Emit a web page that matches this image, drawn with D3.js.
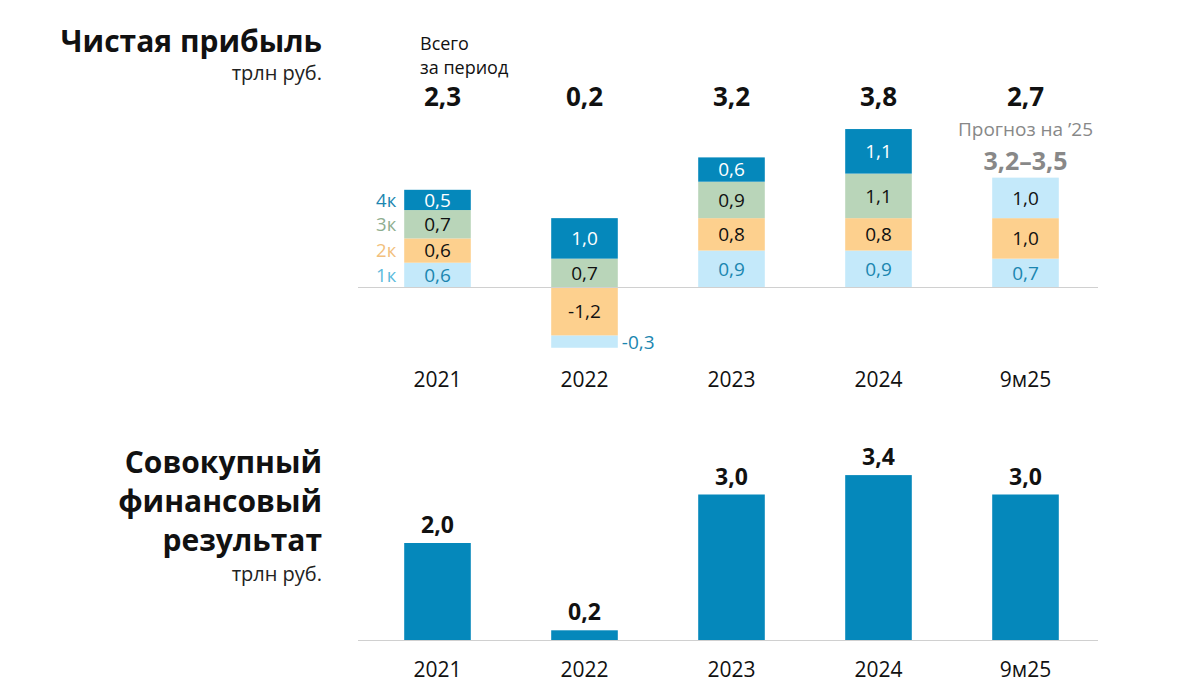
<!DOCTYPE html>
<html><head><meta charset="utf-8">
<script src="https://cdn.jsdelivr.net/npm/d3@7/dist/d3.min.js"></script>
<style>body{margin:0;background:#fff}svg{display:block}text{font-family:"Open Sans",sans-serif}</style>
</head><body>
<svg id="c" width="1201" height="700"></svg>
<script>
const categories = ["2021","2022","2023","2024","9м25"];
const quarters = ["1к","2к","3к","4к"];
const q1 = [0.6, -0.3, 0.9, 0.9, 0.7];
const q2 = [0.6, -1.2, 0.8, 0.8, 1.0];
const q3 = [0.7, 0.7, 0.9, 1.1, 1.0];
const q4 = [0.5, 1.0, 0.6, 1.1, null];
const totals = ["2,3","0,2","3,2","3,8","2,7"];
const forecastLabel = "Прогноз на ’25";
const forecastRange = "3,2–3,5";
const comprehensive = [2.0, 0.2, 3.0, 3.4, 3.0];

const qColors = ["#c4e9fa","#fdd08e","#b9d5b9","#0588bb"];
const qText = ["#1b86b0","#111","#111","#fff"];
const qLegend = ["#5cbbdd","#f2c07c","#8fae8f","#1b86b0"];
const barColor = "#0588bb";

const svg = d3.select("#c");
const fmt = v => d3.format(".1f")(v).replace(".", ",").replace("−","-");

// Titles
svg.append("text").attr("x",322).attr("y",52).attr("text-anchor","end")
  .attr("font-size",30).attr("font-weight",700).attr("fill","#111").text("Чистая прибыль");
svg.append("text").attr("x",322).attr("y",80).attr("text-anchor","end")
  .attr("font-size",20).attr("fill","#222").text("трлн руб.");
["Совокупный","финансовый","результат"].forEach((t,i)=>{
  svg.append("text").attr("x",322).attr("y",473+i*39).attr("text-anchor","end")
    .attr("font-size",30).attr("font-weight",700).attr("fill","#111").text(t);
});
svg.append("text").attr("x",322).attr("y",581).attr("text-anchor","end")
  .attr("font-size",20).attr("fill","#222").text("трлн руб.");

const x = d3.scaleBand().domain(categories).range([364,1099]).paddingInner(0.547).paddingOuter(0.2735);

// Top chart
const y0 = 287, k = 40.5;
const yT = d3.scaleLinear().domain([-2,4]).range([y0+2*k, y0-4*k]);
const series = [q1,q2,q3,q4];
const segs = [];
categories.forEach((c,i)=>{
  let pos = 0, neg = 0;
  for (let j=0;j<4;j++){ const v=series[j][i]; if (v!=null && v>0){ segs.push({c,i,j,v,a:pos,b:pos+v}); pos+=v; } }
  for (let j=3;j>=0;j--){ const v=series[j][i]; if (v!=null && v<0){ segs.push({c,i,j,v,a:neg,b:neg+v}); neg+=v; } }
});
const isForecastQ3 = d => d.c==="9м25" && d.j===2;
const g = svg.append("g");
g.selectAll("rect").data(segs).join("rect")
  .attr("x",d=>x(d.c)).attr("width",x.bandwidth())
  .attr("y",d=>yT(Math.max(d.a,d.b))).attr("height",d=>Math.abs(yT(d.a)-yT(d.b)))
  .attr("fill",d=>isForecastQ3(d)?qColors[0]:qColors[d.j]);
g.selectAll("text").data(segs).join("text")
  .attr("x",d=>Math.abs(d.v)<0.4 ? x(d.c)+x.bandwidth()+4 : x(d.c)+x.bandwidth()/2)
  .attr("text-anchor",d=>Math.abs(d.v)<0.4?"start":"middle")
  .attr("y",d=>(yT(d.a)+yT(d.b))/2)
  .attr("dy","0.36em").attr("font-size",19)
  .attr("fill",d=>isForecastQ3(d)?"#111":qText[d.j]).text(d=>fmt(d.v));
svg.append("line").attr("x1",358).attr("x2",1098).attr("y1",yT(0)+0.5).attr("y2",yT(0)+0.5)
  .attr("stroke","#d0d0d0").attr("stroke-width",1.2);

// quarter legend next to 2021
segs.filter(d=>d.i===0).forEach(d=>{
  svg.append("text").attr("x",x(d.c)-8).attr("y",(yT(d.a)+yT(d.b))/2).attr("dy","0.36em")
    .attr("text-anchor","end").attr("font-size",18.5).attr("fill",qLegend[d.j]).text(quarters[d.j]);
});

// totals
svg.append("text").attr("x",420).attr("y",50).attr("font-size",18).attr("fill","#111").text("Всего");
svg.append("text").attr("x",420).attr("y",74).attr("font-size",18).attr("fill","#111").text("за период");
categories.forEach((c,i)=>{
  svg.append("text").attr("x",i===0?x(c)+x.bandwidth()/2+5:x(c)+x.bandwidth()/2).attr("y",106)
    .attr("text-anchor","middle").attr("font-size",26).attr("font-weight",700).attr("fill","#111").text(totals[i]);
});
svg.append("text").attr("x",x("9м25")+x.bandwidth()/2).attr("y",136).attr("text-anchor","middle")
  .attr("font-size",19).attr("fill","#888").text(forecastLabel);
svg.append("text").attr("x",x("9м25")+x.bandwidth()/2).attr("y",170).attr("text-anchor","middle")
  .attr("font-size",25).attr("font-weight",700).attr("fill","#888").text(forecastRange);

// top x axis
const axT = svg.append("g").attr("transform","translate(0,379)")
  .call(d3.axisBottom(x).tickSize(0).tickPadding(0));
axT.select(".domain").remove();
axT.selectAll("text").attr("font-size",21).attr("fill","#111").attr("dy","0.36em").attr("font-family","Open Sans");

// Bottom chart
const b0 = 640, kb = 48.5;
const yB = d3.scaleLinear().domain([0,4]).range([b0, b0-4*kb]);
svg.append("g").selectAll("rect").data(comprehensive).join("rect")
  .attr("x",(d,i)=>x(categories[i])).attr("width",x.bandwidth())
  .attr("y",d=>yB(d)).attr("height",d=>yB(0)-yB(d)).attr("fill",barColor);
svg.append("g").selectAll("text").data(comprehensive).join("text")
  .attr("x",(d,i)=>x(categories[i])+x.bandwidth()/2).attr("y",d=>yB(d)-10)
  .attr("text-anchor","middle").attr("font-size",23).attr("font-weight",700).attr("fill","#111").text(d=>fmt(d));
svg.append("line").attr("x1",358).attr("x2",1098).attr("y1",b0+0.5).attr("y2",b0+0.5)
  .attr("stroke","#d0d0d0").attr("stroke-width",1.2);
const axB = svg.append("g").attr("transform","translate(0,669)")
  .call(d3.axisBottom(x).tickSize(0).tickPadding(0));
axB.select(".domain").remove();
axB.selectAll("text").attr("font-size",21).attr("fill","#111").attr("dy","0.36em").attr("font-family","Open Sans");
</script>
</body></html>
